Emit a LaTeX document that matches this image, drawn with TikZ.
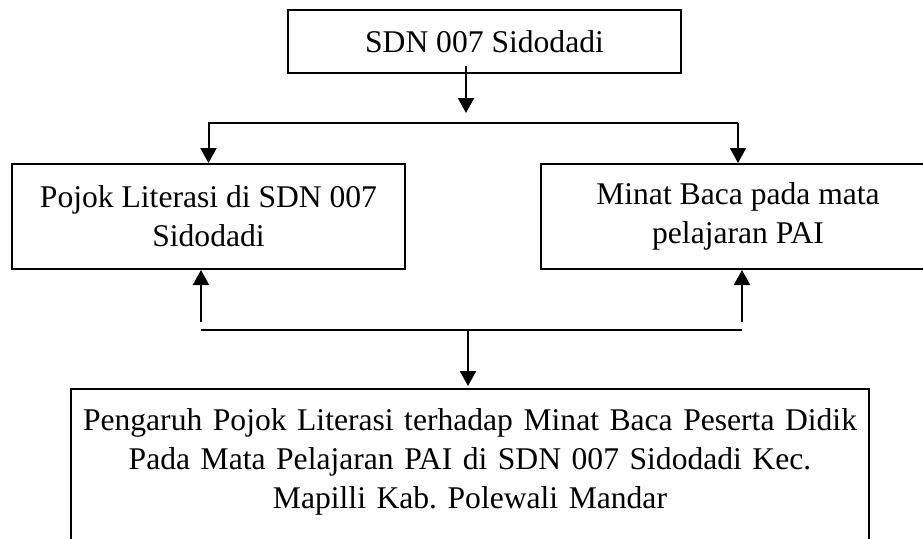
\documentclass[tikz,border=0pt]{standalone}
\usepackage{fontspec}
\setmainfont{Liberation Serif}
\usetikzlibrary{arrows.meta}
\frenchspacing
\begin{document}
\begin{tikzpicture}
	[x=1pt,y=-1pt,
	box/.style={rectangle,draw,line width=2pt,align=center,inner sep=0pt,font=\fontsize{31.6}{39}\selectfont},
	arr/.style={line width=2pt,-{Triangle[length=15pt,width=16pt]}},
	bus/.style={line width=2pt}]
	\useasboundingbox (0,0) rectangle (923,538);
	\node[box,name=sdn,minimum width=393pt,minimum height=63pt] at (484.5,41.5) {SDN 007 Sidodadi};
	\node[box,name=pojok,minimum width=393pt,minimum height=105pt] at (208.5,216.5) {Pojok Literasi di SDN 007\\Sidodadi};
	\node[box,name=minat,minimum width=394pt,minimum height=105pt] at (738,216.5) {Minat Baca pada mata\\pelajaran PAI};
	\node[box,name=pengaruh,anchor=north,text width=798pt,inner xsep=0pt,inner ysep=20pt,text depth=115pt] at (470,388)
		{Pengaruh Pojok Literasi terhadap Minat Baca Peserta Didik\\Pada Mata Pelajaran PAI di SDN 007 Sidodadi Kec.\\Mapilli Kab. Polewali Mandar};
	\coordinate (split) at (466,123);
	\coordinate (join) at (468,330);
	\coordinate (lfoot) at (201,322);
	\coordinate (rfoot) at (742,322);
	\draw[arr] ([yshift=8pt]sdn.south -| split) -- ([yshift=10pt]split);
	\draw[arr] (split -| minat.north) -- (split -| pojok.north) -- (pojok.north);
	\draw[arr] (split -| minat.north) -- (minat.north);
	\draw[arr] (lfoot) -- (lfoot |- pojok.south);
	\draw[arr] (rfoot) -- (rfoot |- minat.south);
	\draw[bus] (join -| lfoot) -- (join -| rfoot);
	\draw[arr] (join) -- ([yshift=2pt]pengaruh.north -| join);
\end{tikzpicture}
\end{document}
